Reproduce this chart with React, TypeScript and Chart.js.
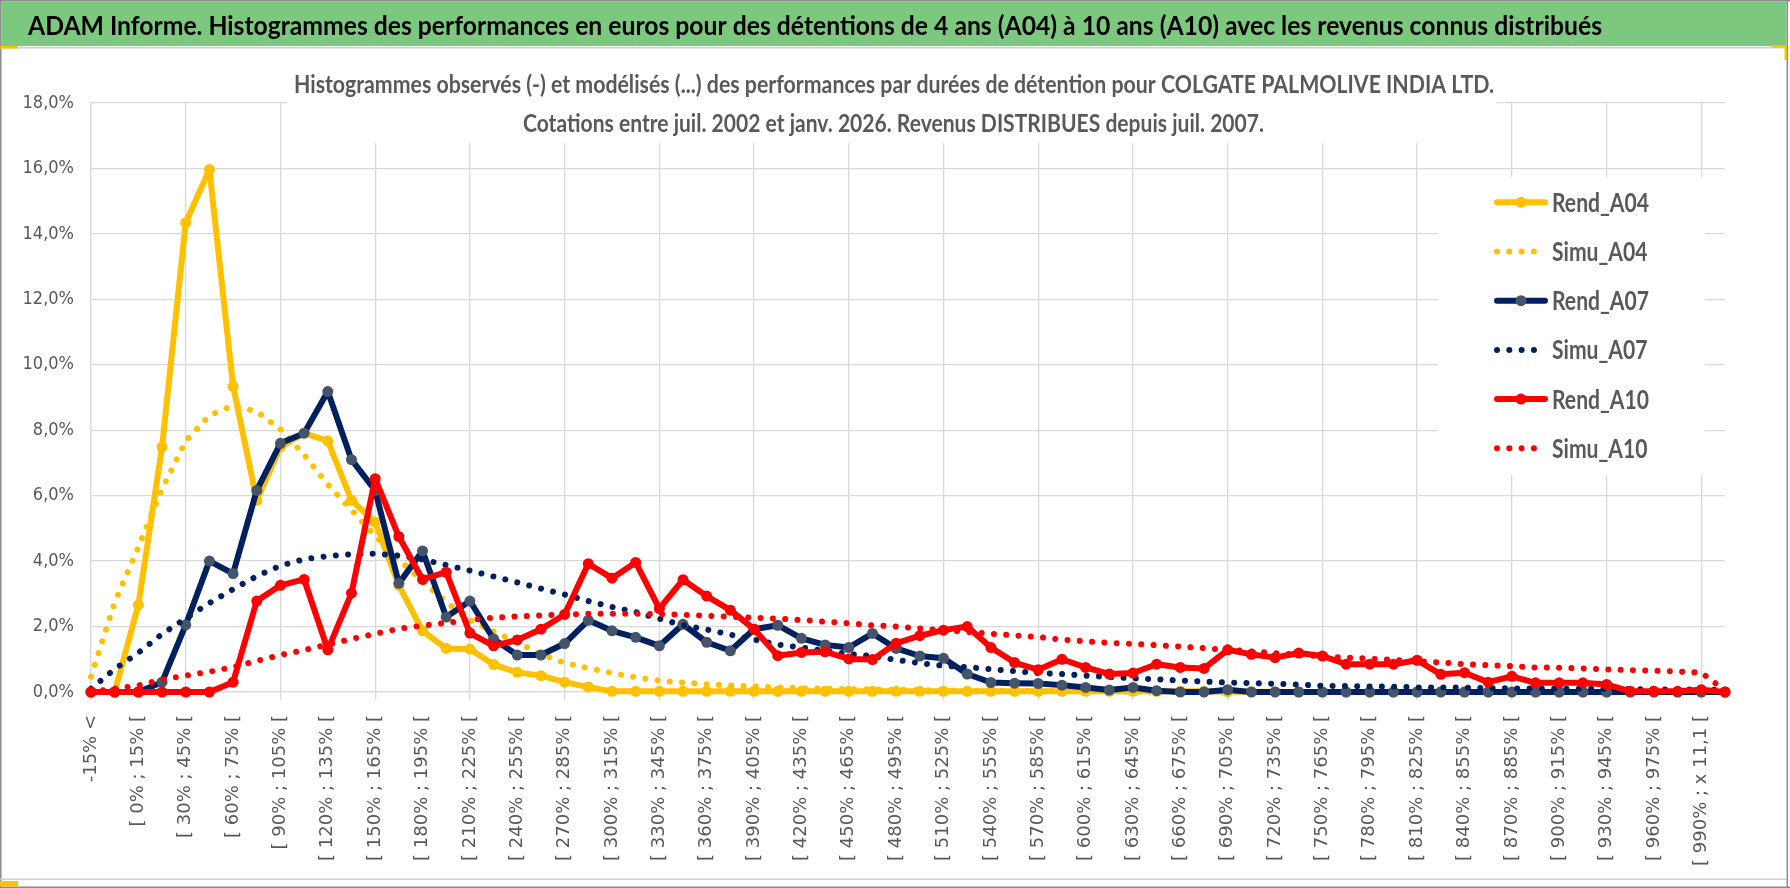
import React, { useEffect, useRef } from 'react';
import { Chart, registerables } from 'chart.js';

Chart.register(...registerables);

const W = 1790;
const H = 888;

const MAIN_TITLE =
  'ADAM Informe. Histogrammes des performances en euros pour des détentions de 4 ans (A04) à 10 ans (A10) avec les revenus connus distribués';
const SUB_TITLE_1 =
  'Histogrammes observés (-) et modélisés (...) des performances par durées de détention pour COLGATE PALMOLIVE INDIA LTD.';
const SUB_TITLE_2 = 'Cotations entre juil. 2002 et janv. 2026. Revenus DISTRIBUES depuis juil. 2007.';

const CATEGORIES = [
  '-15% <', '[ -15% ; 0% [', '[ 0% ; 15% [', '[ 15% ; 30% [', '[ 30% ; 45% [', '[ 45% ; 60% [',
  '[ 60% ; 75% [', '[ 75% ; 90% [', '[ 90% ; 105% [', '[ 105% ; 120% [', '[ 120% ; 135% [', '[ 135% ; 150% [',
  '[ 150% ; 165% [', '[ 165% ; 180% [', '[ 180% ; 195% [', '[ 195% ; 210% [', '[ 210% ; 225% [', '[ 225% ; 240% [',
  '[ 240% ; 255% [', '[ 255% ; 270% [', '[ 270% ; 285% [', '[ 285% ; 300% [', '[ 300% ; 315% [', '[ 315% ; 330% [',
  '[ 330% ; 345% [', '[ 345% ; 360% [', '[ 360% ; 375% [', '[ 375% ; 390% [', '[ 390% ; 405% [', '[ 405% ; 420% [',
  '[ 420% ; 435% [', '[ 435% ; 450% [', '[ 450% ; 465% [', '[ 465% ; 480% [', '[ 480% ; 495% [', '[ 495% ; 510% [',
  '[ 510% ; 525% [', '[ 525% ; 540% [', '[ 540% ; 555% [', '[ 555% ; 570% [', '[ 570% ; 585% [', '[ 585% ; 600% [',
  '[ 600% ; 615% [', '[ 615% ; 630% [', '[ 630% ; 645% [', '[ 645% ; 660% [', '[ 660% ; 675% [', '[ 675% ; 690% [',
  '[ 690% ; 705% [', '[ 705% ; 720% [', '[ 720% ; 735% [', '[ 735% ; 750% [', '[ 750% ; 765% [', '[ 765% ; 780% [',
  '[ 780% ; 795% [', '[ 795% ; 810% [', '[ 810% ; 825% [', '[ 825% ; 840% [', '[ 840% ; 855% [', '[ 855% ; 870% [',
  '[ 870% ; 885% [', '[ 885% ; 900% [', '[ 900% ; 915% [', '[ 915% ; 930% [', '[ 930% ; 945% [', '[ 945% ; 960% [',
  '[ 960% ; 975% [', '[ 975% ; 990% [', '[ 990% ; x 11,1 [', 'x 11,1 <',
];

const REND_A04 = [
  0, 0, 2.66, 7.49, 14.34, 15.97, 9.34, 5.86, 7.49, 7.91,
  7.67, 5.86, 5.19, 3.26, 1.87, 1.33, 1.31, 0.84, 0.6, 0.5,
  0.3, 0.15, 0.02, 0.02, 0.02, 0.02, 0.02, 0.02, 0.02, 0.02,
  0.02, 0.02, 0.02, 0.02, 0.02, 0.02, 0.02, 0.02, 0.02, 0.02,
  0.02, 0.02, 0.02, 0.02, 0.02, 0.02, 0.02, 0.02, 0.01, 0.01,
  0.01, 0, 0, 0, 0, 0, 0, 0, 0, 0,
  0, 0, 0, 0, 0, 0, 0, 0, 0, 0,
];

const SIMU_A04 = [
  0.47, 2.74, 4.43, 6.2, 7.67, 8.45, 8.76, 8.57, 8.03, 7.25,
  6.34, 5.56, 4.77, 4.05, 3.38, 2.75, 2.2, 1.85, 1.52, 1.16,
  0.89, 0.73, 0.58, 0.45, 0.35, 0.29, 0.24, 0.2, 0.17, 0.14,
  0.12, 0.1, 0.09, 0.08, 0.07, 0.06, 0.05, 0.04, 0.04, 0.03,
  0.03, 0.02, 0.02, 0.02, 0.01, 0.01, 0, 0, 0, 0,
  0, 0, 0, 0, 0, 0, 0, 0, 0, 0,
  0, 0, 0, 0, 0, 0, 0, 0, 0, 0,
];

const REND_A07 = [
  0, 0, 0, 0.3, 2.05, 4.0, 3.62, 6.16, 7.6, 7.91,
  9.18, 7.1, 6.16, 3.32, 4.31, 2.29, 2.78, 1.62, 1.13, 1.13,
  1.48, 2.19, 1.87, 1.67, 1.41, 2.07, 1.52, 1.26, 1.92, 2.04,
  1.64, 1.44, 1.36, 1.79, 1.33, 1.1, 1.03, 0.55, 0.29, 0.27,
  0.26, 0.21, 0.14, 0.06, 0.14, 0.04, 0, 0, 0.07, 0,
  0, 0, 0, 0, 0, 0, 0, 0, 0, 0,
  0, 0, 0, 0, 0, 0, 0, 0, 0, 0,
];

const SIMU_A07 = [
  0.1, 0.7, 1.2, 1.77, 2.25, 2.72, 3.14, 3.54, 3.86, 4.06,
  4.15, 4.21, 4.23, 4.17, 4.05, 3.88, 3.71, 3.53, 3.35, 3.16,
  2.98, 2.78, 2.6, 2.44, 2.24, 2.04, 1.91, 1.75, 1.6, 1.45,
  1.36, 1.26, 1.16, 1.1, 0.98, 0.88, 0.8, 0.76, 0.7, 0.64,
  0.58, 0.55, 0.5, 0.46, 0.42, 0.39, 0.35, 0.32, 0.29, 0.27,
  0.25, 0.23, 0.19, 0.18, 0.17, 0.16, 0.14, 0.14, 0.13, 0.12,
  0.11, 0.11, 0.1, 0.1, 0.09, 0.09, 0.08, 0.08, 0.07, 0.07,
];

const REND_A10 = [
  0, 0, 0, 0, 0, 0, 0.3, 2.78, 3.26, 3.44,
  1.29, 3.02, 6.52, 4.75, 3.44, 3.66, 1.8, 1.41, 1.59, 1.92,
  2.37, 3.92, 3.48, 3.96, 2.55, 3.43, 2.93, 2.5, 1.92, 1.11,
  1.21, 1.23, 1.01, 0.99, 1.49, 1.72, 1.89, 2.0, 1.36, 0.9,
  0.68, 1.0, 0.75, 0.55, 0.58, 0.85, 0.75, 0.72, 1.29, 1.15,
  1.05, 1.19, 1.1, 0.85, 0.85, 0.85, 0.97, 0.54, 0.59, 0.3,
  0.48, 0.28, 0.28, 0.28, 0.23, 0.02, 0.02, 0.02, 0.07, 0,
];

const SIMU_A10 = [
  0, 0.1, 0.2, 0.38, 0.5, 0.62, 0.76, 0.95, 1.13, 1.28,
  1.45, 1.62, 1.78, 1.93, 2.03, 2.11, 2.2, 2.27, 2.31, 2.34,
  2.37, 2.39, 2.39, 2.39, 2.38, 2.36, 2.33, 2.3, 2.27, 2.24,
  2.2, 2.15, 2.1, 2.04, 2.0, 1.94, 1.89, 1.84, 1.78, 1.73,
  1.68, 1.6, 1.55, 1.5, 1.47, 1.43, 1.39, 1.34, 1.29, 1.24,
  1.19, 1.14, 1.09, 1.05, 1.02, 0.98, 0.94, 0.9, 0.85, 0.82,
  0.79, 0.75, 0.74, 0.72, 0.69, 0.67, 0.65, 0.63, 0.59, 0.05,
];

const SERIES_NAMES = ['Rend_A04', 'Simu_A04', 'Rend_A07', 'Simu_A07', 'Rend_A10', 'Simu_A10'];
const SERIES_VALUES = [REND_A04, SIMU_A04, REND_A07, SIMU_A07, REND_A10, SIMU_A10];
const SERIES_COLORS = ['#FFC000', '#FFC000', '#002060', '#002060', '#FF0000', '#FF0000'];
const MARKER_COLORS = ['#FFC000', null, '#44546A', null, '#FF0000', null];

const Y_MIN = 0;
const Y_MAX = 18;
const Y_STEP = 2;

const GRID = '#D9D9D9';
const TEXT_GREY = '#595959';
const DOT_DASH = [0.01, 12.3];

function fitText(
  ctx: CanvasRenderingContext2D,
  text: string,
  x: number,
  baseline: number,
  capH: number,
  width: number,
  weight: string,
  family: string,
  color: string
) {
  ctx.save();
  ctx.font = `${weight} 100px ${family}`;
  const asc = ctx.measureText('H').actualBoundingBoxAscent || 72;
  const size = (capH * 100) / asc;
  ctx.font = `${weight} ${size}px ${family}`;
  const w = ctx.measureText(text).width;
  const sx = width / w;
  ctx.translate(x, baseline);
  ctx.scale(sx, 1);
  ctx.fillStyle = color;
  ctx.textAlign = 'left';
  ctx.textBaseline = 'alphabetic';
  ctx.fillText(text, 0, 0);
  ctx.restore();
}

const FONT_UI = "Lato, 'Open Sans', sans-serif";

const decor = {
  id: 'decor',
  beforeDraw(chart: any) {
    const ctx = chart.ctx as CanvasRenderingContext2D;
    ctx.save();
    ctx.fillStyle = '#FFFFFF';
    ctx.fillRect(0, 0, W, H);
    ctx.restore();
  },
  beforeDatasetsDraw(chart: any) {
    const ctx = chart.ctx as CanvasRenderingContext2D;
    // box behind chart title (hides grid)
    ctx.save();
    ctx.fillStyle = '#FFFFFF';
    ctx.fillRect(287, 60, 1210, 83);
    ctx.restore();
    fitText(ctx, SUB_TITLE_1, 294, 93, 17.5, 1200, 'bold', FONT_UI, TEXT_GREY);
    fitText(ctx, SUB_TITLE_2, 523, 132, 17.5, 741, 'bold', FONT_UI, TEXT_GREY);

    // legend
    ctx.save();
    ctx.fillStyle = '#FFFFFF';
    ctx.fillRect(1438, 177, 267, 298);
    ctx.restore();

    ctx.save();
    ctx.font = `bold 100px ${FONT_UI}`;
    const asc = ctx.measureText('H').actualBoundingBoxAscent || 72;
    const size = (19 * 100) / asc;
    ctx.font = `bold ${size}px ${FONT_UI}`;
    const sx = 97 / ctx.measureText('Rend_A04').width;
    ctx.restore();

    for (let k = 0; k < SERIES_NAMES.length; k++) {
      const y = 202.3 + k * 49.2;
      const color = SERIES_COLORS[k];
      const marker = MARKER_COLORS[k];
      ctx.save();
      ctx.strokeStyle = color;
      ctx.lineWidth = 6;
      if (marker) {
        ctx.lineCap = 'round';
        ctx.beginPath();
        ctx.moveTo(1497, y);
        ctx.lineTo(1545, y);
        ctx.stroke();
        ctx.fillStyle = marker;
        ctx.beginPath();
        ctx.arc(1521, y, 5.5, 0, Math.PI * 2);
        ctx.fill();
      } else {
        ctx.lineCap = 'round';
        ctx.setLineDash(DOT_DASH);
        ctx.beginPath();
        ctx.moveTo(1497, y);
        ctx.lineTo(k === 5 ? 1546 : 1534, y);
        ctx.stroke();
      }
      ctx.restore();

      ctx.save();
      ctx.font = `bold ${size}px ${FONT_UI}`;
      ctx.fillStyle = TEXT_GREY;
      ctx.textBaseline = 'alphabetic';
      ctx.translate(1552, y + 9.5);
      ctx.scale(sx, 1);
      ctx.fillText(SERIES_NAMES[k], 0, 0);
      ctx.restore();
    }
  },
  afterDraw(chart: any) {
    const ctx = chart.ctx as CanvasRenderingContext2D;
    ctx.save();
    // outer frame
    ctx.fillStyle = '#8C8C8C';
    ctx.fillRect(0, 0, W, 1.5);
    ctx.fillRect(0, 0, 1.5, H);
    ctx.fillRect(1786.5, 0, 1.5, H);
    ctx.fillRect(0, H - 1.5, W, 1.5);
    // green title bar
    ctx.fillStyle = '#7DC87F';
    ctx.fillRect(1.5, 1.5, 1785, 44.5);
    // separator lines
    ctx.fillStyle = '#D0D0D0';
    ctx.fillRect(0, 47, 1786.5, 1.5);
    ctx.fillRect(0, 878.5, 1786.5, 1.5);
    // accents
    ctx.fillStyle = '#FFC000';
    ctx.fillRect(0, 46, 18, 2.5);
    ctx.fillRect(1772, 45, 15, 2.5);
    ctx.fillRect(1784.5, 45, 2.5, 15);
    ctx.fillRect(0, 881, 18, 5.5);
    ctx.restore();
    fitText(ctx, MAIN_TITLE, 28, 35, 19, 1574, 'bold', FONT_UI, '#000000');
  },
};

export default function App() {
  const canvasRef = useRef<HTMLCanvasElement | null>(null);

  useEffect(() => {
    const canvas = canvasRef.current;
    if (!canvas) return;

    const datasets = SERIES_NAMES.map((name, i) => {
      const marker = MARKER_COLORS[i];
      const dotted = !marker;
      return {
        label: name,
        data: SERIES_VALUES[i],
        borderColor: SERIES_COLORS[i],
        backgroundColor: SERIES_COLORS[i],
        borderWidth: 6,
        borderDash: dotted ? DOT_DASH : [],
        borderCapStyle: 'round' as const,
        borderJoinStyle: 'round' as const,
        pointRadius: dotted ? 0 : 5.5,
        pointHoverRadius: dotted ? 0 : 5.5,
        pointBackgroundColor: marker || SERIES_COLORS[i],
        pointBorderColor: marker || SERIES_COLORS[i],
        pointBorderWidth: 0,
        tension: 0,
        fill: false,
        clip: false as any,
        order: 5 - i,
      };
    });

    const chart = new Chart(canvas, {
      type: 'line',
      data: { labels: CATEGORIES, datasets },
      plugins: [decor],
      options: {
        animation: false,
        responsive: false,
        maintainAspectRatio: false,
        devicePixelRatio: 1,
        layout: { padding: { left: 0, right: 65, top: 103, bottom: 0 } },
        plugins: {
          legend: { display: false },
          tooltip: { enabled: false },
          title: { display: false },
        },
        scales: {
          x: {
            type: 'category',
            offset: false,
            afterFit: (s: any) => {
              s.height = 196;
            },
            grid: {
              color: (c: any) => (c.index % 4 === 0 ? GRID : 'rgba(0,0,0,0)'),
              tickColor: (c: any) => (c.index % 4 === 0 ? GRID : 'rgba(0,0,0,0)'),
              lineWidth: 1.3,
              drawTicks: true,
              tickLength: 8,
              offset: false,
            },
            border: { display: true, color: GRID, width: 1.3 },
            ticks: {
              autoSkip: false,
              minRotation: 90,
              maxRotation: 90,
              padding: 15,
              color: TEXT_GREY,
              font: { family: "'DejaVu Sans', sans-serif", size: 18 },
              callback: (_v: any, index: number) => (index % 2 === 0 ? CATEGORIES[index] : ''),
            },
          },
          y: {
            min: Y_MIN,
            max: Y_MAX,
            afterFit: (s: any) => {
              s.width = 91;
            },
            grid: { color: GRID, lineWidth: 1.3, drawTicks: false },
            border: { display: true, color: GRID, width: 1.3 },
            ticks: {
              stepSize: Y_STEP,
              padding: 17,
              color: TEXT_GREY,
              font: { family: "'Liberation Sans Narrow', 'DejaVu Sans Condensed', sans-serif", size: 18 },
              callback: (v: any) => Number(v).toFixed(1).replace('.', ',') + '%',
            },
          },
        },
      },
    });

    return () => chart.destroy();
  }, []);

  return (
    <canvas
      ref={canvasRef}
      width={W}
      height={H}
      style={{ position: 'absolute', left: 0, top: 0, display: 'block', width: W, height: H }}
    />
  );
}
